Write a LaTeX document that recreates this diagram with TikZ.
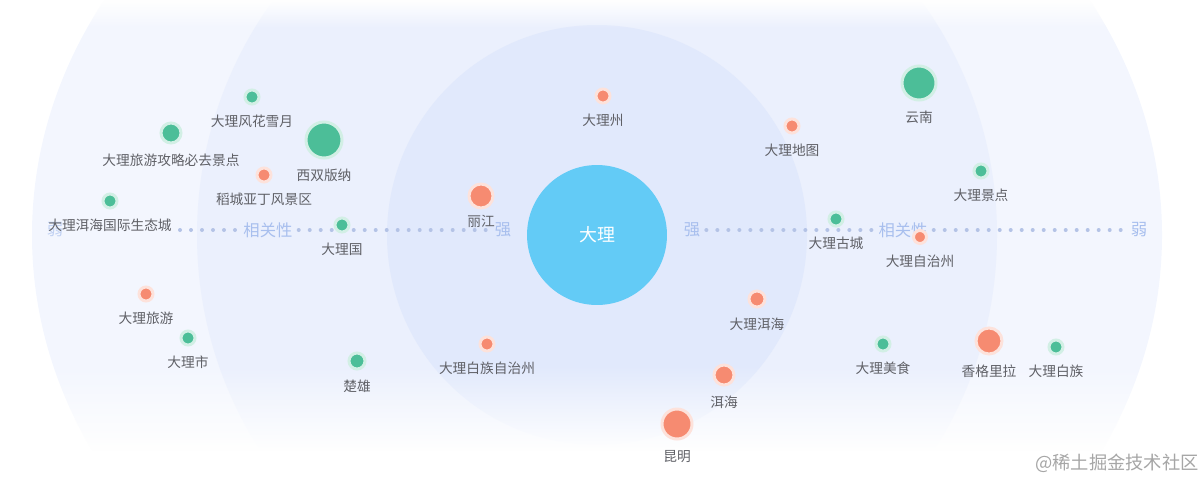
\documentclass[tikz,border=0pt]{standalone}
\usepackage{fontspec}
\setmainfont{Noto Sans CJK SC}
\usetikzlibrary{fadings}
\definecolor{ringout} {HTML}{F3F6FE}
\definecolor{ringmid} {HTML}{EBF0FD}
\definecolor{ringin}  {HTML}{E1E9FC}
\definecolor{core}    {HTML}{63CBF6}
\definecolor{dotgreen}{HTML}{4CBE98}
\definecolor{dotred}  {HTML}{F68B71}
\definecolor{labelgray}{HTML}{5F6066}
\definecolor{axisblue}{HTML}{A8BFEE}
\definecolor{axisdot} {HTML}{B4C3E6}
\tikzfading[name=fade down, top color=transparent!100, bottom color=transparent!0]
\tikzfading[name=fade up, top color=transparent!0, bottom color=transparent!100]

\begin{document}
\begin{tikzpicture}[x=0.02cm, y=-0.02cm,
    dot/.style={circle, inner sep=0pt, line width=0.06cm, label distance=0.04cm},
    green/.style={dot, fill=dotgreen, draw=dotgreen!25},
    red/.style={dot, fill=dotred, draw=dotred!25},
    lbl/.style={text=labelgray, font=\fontsize{7.8pt}{9pt}\selectfont, yshift=-0.07cm},
    axislbl/.style={text=axisblue, font=\fontsize{9.3pt}{11pt}\selectfont},
    axisdots/.style={axisdot, line width=0.08cm, line cap=round,
                     dash pattern=on 0pt off 0.22cm}
  ]
    \useasboundingbox (0,0) rectangle (1202,480);
    % background rings
    \begin{scope}
      \clip (0,0) rectangle (1202,480);
      \fill[ringout] (597,235) ellipse [x radius=565, y radius=480];
      \fill[ringmid] (597,235) circle [radius=400];
      \fill[ringin]  (597,235) circle [radius=210];
      \fill[white, path fading=fade down] (0,365) rectangle (1202,452);
      \fill[white] (-10,451) rectangle (1212,495);
      \fill[white, path fading=fade up] (0,0) rectangle (1202,28);
    \end{scope}

    % axis
    \node[axislbl, text=axisblue!70] (weakL) at (55,230) {弱};
    \node[axislbl] (relL)    at (268,230)  {相关性};
    \node[axislbl, inner sep=1pt] (strongL) at (503,230) {强};
    \node[axislbl] (strongR) at (692,230)  {强};
    \node[axislbl] (relR)    at (903,230)  {相关性};
    \node[axislbl] (weakR)   at (1139,230) {弱};
    \coordinate (axstart) at (180,230);
    \draw[axisdots] (axstart) -- (relL);
    \draw[axisdots] (relL) -- (strongL);
    \draw[axisdots] (strongR) -- (relR);
    \draw[axisdots] (relR) -- (weakR);

    \node[circle, fill=core, minimum size=2.8cm, text=white,
          font=\fontsize{10.2pt}{12pt}\selectfont] (dali) at (597,235) {大理};

    % left half
    \node[green, minimum size=0.28cm, label={[lbl]below:大理风花雪月}]     (fhxy)     at (252,97)  {};
    \node[green, minimum size=0.40cm, label={[lbl]below:大理旅游攻略必去景点}] (gonglue) at (171,133) {};
    \node[green, minimum size=0.72cm, label={[lbl]below:西双版纳}]         (xsbn)     at (324,140) {};
    \node[red,   minimum size=0.28cm, label={[lbl]below:稻城亚丁风景区}]   (daocheng) at (264,175) {};
    \node[green, minimum size=0.28cm, label={[lbl]below:大理洱海国际生态城}] (erhaicity) at (110,201) {};
    \node[green, minimum size=0.28cm, label={[lbl]below:大理国}]           (dlguo)    at (342,225) {};
    \node[red,   minimum size=0.48cm, label={[lbl, inner sep=1pt]below:丽江}] (lijiang) at (481,196) {};
    \node[red,   minimum size=0.28cm, label={[lbl]below:大理旅游}]         (lvyou)    at (146,294) {};
    \node[green, minimum size=0.28cm, label={[lbl]below:大理市}]           (dlshi)    at (188,338) {};
    \node[green, minimum size=0.32cm, label={[lbl]below:楚雄}]             (chuxiong) at (357,361) {};
    \node[red,   minimum size=0.28cm, label={[lbl]below:大理白族自治州}]   (bzzzz)    at (487,344) {};

    % right half
    \node[red,   minimum size=0.28cm, label={[lbl]below:大理州}]           (dlzhou)   at (603,96)  {};
    \node[red,   minimum size=0.28cm, label={[lbl]below:大理地图}]         (dlmap)    at (792,126) {};
    \node[green, minimum size=0.68cm, label={[lbl]below:云南}]             (yunnan)   at (919,83)  {};
    \node[green, minimum size=0.28cm, label={[lbl]below:大理景点}]         (jingdian) at (981,171) {};
    \node[green, minimum size=0.28cm, label={[lbl]below:大理古城}]         (gucheng)  at (836,219) {};
    \node[red,   minimum size=0.26cm, label={[lbl]below:大理自治州}]       (zzz)      at (920,237) {};
    \node[red,   minimum size=0.32cm, label={[lbl]below:大理洱海}]         (dlerhai)  at (757,299) {};
    \node[red,   minimum size=0.40cm, label={[lbl]below:洱海}]             (erhai)    at (724,375) {};
    \node[red,   minimum size=0.60cm, label={[lbl]below:昆明}]             (kunming)  at (677,424) {};
    \node[green, minimum size=0.28cm, label={[lbl]below:大理美食}]         (meishi)   at (883,344) {};
    \node[red,   minimum size=0.52cm, label={[lbl]below:香格里拉}]         (xgll)     at (989,341) {};
    \node[green, minimum size=0.28cm, label={[lbl]below:大理白族}]         (baizu)    at (1056,347) {};

    \node[text=gray!70, font=\fontsize{10.4pt}{12pt}\selectfont] (mark) at (1117,463) {@稀土掘金技术社区};
  \end{tikzpicture}
\end{document}
